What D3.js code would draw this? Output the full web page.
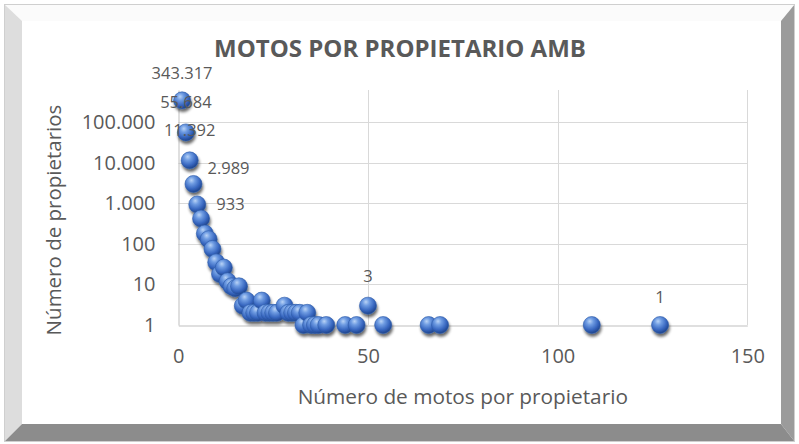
<!DOCTYPE html>
<html>
<head>
<meta charset="utf-8">
<script src="https://cdn.jsdelivr.net/npm/d3@7"></script>
<style>
  html, body { margin: 0; padding: 0; background: #ffffff; }
  svg { display: block; }
  text { font-family: "Open Sans", "DejaVu Sans", sans-serif; fill: #595959; }
</style>
</head>
<body>
<svg id="chart" width="799" height="444"></svg>
<script>
// Número de motos que tiene cada propietario (eje X)
const motos = [
  1, 2, 3, 4, 5, 6, 7, 8, 9, 10,
  11, 12, 13, 14, 15, 16, 17, 18, 19, 20,
  21, 22, 23, 24, 25, 26, 28, 29, 30, 31,
  32, 33, 34, 35, 36, 37, 39, 44, 47, 50,
  54, 66, 69, 109, 127
];
// Número de propietarios con esa cantidad de motos (eje Y, logarítmico)
const propietarios = [
  343317, 55684, 11392, 2989, 933, 420, 180, 130, 75, 35,
  18, 26, 12, 9, 8, 9, 3, 4, 2, 2,
  2, 4, 2, 2, 2, 2, 3, 2, 2, 2,
  2, 1, 2, 1, 1, 1, 1, 1, 1, 3,
  1, 1, 1, 1, 1
];
// Puntos que llevan etiqueta de valor
const etiquetados = [1, 2, 3, 4, 5, 50, 127];

const xTicks = [0, 50, 100, 150];
const yTicks = [1, 10, 100, 1000, 10000, 100000];

const titulo = "MOTOS POR PROPIETARIO AMB";
const tituloX = "Número de motos por propietario";
const tituloY = "Número de propietarios";

const W = 799, H = 444;
const plot = { left: 178.3, right: 747.3, top: 90, bottom: 325 };

const svg = d3.select("#chart");
const defs = svg.append("defs");

// Esfera azul para los marcadores
const grad = defs.append("radialGradient")
  .attr("id", "esfera").attr("cx", "40%").attr("cy", "32%").attr("r", "68%")
  .attr("fx", "38%").attr("fy", "28%");
grad.append("stop").attr("offset", "0%").attr("stop-color", "#b9d3f6");
grad.append("stop").attr("offset", "30%").attr("stop-color", "#6f9ce2");
grad.append("stop").attr("offset", "70%").attr("stop-color", "#3867c0");
grad.append("stop").attr("offset", "100%").attr("stop-color", "#1f448c");

const sombra = defs.append("filter").attr("id", "sombra")
  .attr("x", "-50%").attr("y", "-50%").attr("width", "200%").attr("height", "200%");
sombra.append("feGaussianBlur").attr("in", "SourceAlpha").attr("stdDeviation", 1.6);
sombra.append("feOffset").attr("dx", 1).attr("dy", 3).attr("result", "off");
sombra.append("feComponentTransfer").append("feFuncA").attr("type", "linear").attr("slope", 0.6);
const merge = sombra.append("feMerge");
merge.append("feMergeNode");
merge.append("feMergeNode").attr("in", "SourceGraphic");

// Marco biselado del gráfico
const outer = { x0: 4, y0: 4, x1: 795, y1: 442 };
const inner = { x0: 22, y0: 21, x1: 781, y1: 424 };
const caras = [
  { pts: [[outer.x0, outer.y0], [outer.x1, outer.y0], [inner.x1, inner.y0], [inner.x0, inner.y0]], fill: "#fbfbfb" },
  { pts: [[outer.x0, outer.y0], [inner.x0, inner.y0], [inner.x0, inner.y1], [outer.x0, outer.y1]], fill: "#dddddd" },
  { pts: [[outer.x1, outer.y0], [outer.x1, outer.y1], [inner.x1, inner.y1], [inner.x1, inner.y0]], fill: "#9b9b9b" },
  { pts: [[outer.x0, outer.y1], [inner.x0, inner.y1], [inner.x1, inner.y1], [outer.x1, outer.y1]], fill: "#8c8c8c" }
];
svg.append("rect").attr("x", outer.x0).attr("y", outer.y0)
  .attr("width", outer.x1 - outer.x0).attr("height", outer.y1 - outer.y0)
  .attr("fill", "#ffffff");
svg.selectAll("polygon.cara").data(caras).enter().append("polygon")
  .attr("class", "cara")
  .attr("points", d => d.pts.map(p => p.join(",")).join(" "))
  .attr("fill", d => d.fill);
svg.append("rect").attr("x", inner.x0).attr("y", inner.y0)
  .attr("width", inner.x1 - inner.x0).attr("height", inner.y1 - inner.y0)
  .attr("fill", "#ffffff");
svg.append("rect").attr("x", outer.x0 + 0.5).attr("y", outer.y0 + 0.5)
  .attr("width", outer.x1 - outer.x0 - 1).attr("height", outer.y1 - outer.y0 - 1)
  .attr("fill", "none").attr("stroke", "#cfcfcf").attr("stroke-width", 1);

// Escalas
const x = d3.scaleLinear().domain([0, 150]).range([plot.left, plot.right]);
const yMaxLog = 5.79;
const y = d3.scaleLog().domain([1, Math.pow(10, yMaxLog)]).range([plot.bottom, plot.top]);

// Cuadrícula
const g = svg.append("g");
g.selectAll("line.gh").data(yTicks.slice(1)).enter().append("line")
  .attr("x1", plot.left).attr("x2", plot.right)
  .attr("y1", d => Math.round(y(d)) + 0.5).attr("y2", d => Math.round(y(d)) + 0.5)
  .attr("stroke", "#d9d9d9").attr("stroke-width", 1);
g.selectAll("line.gv").data(xTicks.slice(1)).enter().append("line")
  .attr("y1", plot.top).attr("y2", plot.bottom)
  .attr("x1", d => Math.round(x(d)) + 0.5).attr("x2", d => Math.round(x(d)) + 0.5)
  .attr("stroke", "#d9d9d9").attr("stroke-width", 1);

// Ejes
const fmt = d3.formatLocale({ decimal: ",", thousands: ".", grouping: [3], currency: ["$", ""] }).format(",");

const xAxis = d3.axisBottom(x).tickValues(xTicks).tickSize(0).tickPadding(23).tickFormat(fmt);
const gx = svg.append("g").attr("transform", `translate(0,${Math.round(plot.bottom) + 0.5})`).call(xAxis);
gx.select(".domain").attr("stroke", "#bfbfbf");
gx.selectAll("text").attr("font-size", 20).attr("fill", "#595959")
  .style("font-family", "'Open Sans', sans-serif");

const yAxis = d3.axisLeft(y).tickValues(yTicks).tickSize(0).tickPadding(23).tickFormat(fmt);
const gy = svg.append("g").attr("transform", `translate(${Math.round(plot.left) + 0.5},0)`).call(yAxis);
gy.select(".domain").attr("stroke", "#bfbfbf");
gy.selectAll("text").attr("font-size", 20).attr("fill", "#595959")
  .style("font-family", "'Open Sans', sans-serif");

// Puntos
const datos = motos.map((m, i) => ({ m, n: propietarios[i] }));
svg.append("g").attr("filter", "url(#sombra)")
  .selectAll("circle").data(datos).enter().append("circle")
  .attr("cx", d => x(d.m)).attr("cy", d => y(d.n)).attr("r", 8.5)
  .attr("fill", "url(#esfera)")
  .attr("stroke", "#2c5aa8").attr("stroke-width", 0.6);

// Etiquetas de datos
const desplaz = {
  1: { dx: 0, dy: -28, anchor: "middle" },
  2: { dx: 0, dy: -31, anchor: "middle" },
  3: { dx: 0, dy: -31, anchor: "middle" },
  4: { dx: 14, dy: -16, anchor: "start" },
  5: { dx: 19, dy: -1, anchor: "start" },
  50: { dx: 0, dy: -30, anchor: "middle" },
  127: { dx: 0, dy: -29, anchor: "middle" }
};
svg.append("g").selectAll("text").data(datos.filter(d => etiquetados.includes(d.m)))
  .enter().append("text")
  .attr("x", d => x(d.m) + desplaz[d.m].dx)
  .attr("y", d => y(d.n) + desplaz[d.m].dy)
  .attr("text-anchor", d => desplaz[d.m].anchor)
  .attr("dominant-baseline", "central")
  .attr("font-size", 16.5).attr("fill", "#404040")
  .text(d => fmt(d.n));

// Títulos
svg.append("text").attr("x", 400).attr("y", 47)
  .attr("text-anchor", "middle").attr("dominant-baseline", "central")
  .attr("font-size", 24).attr("font-weight", "bold").attr("fill", "#595959")
  .text(titulo);
svg.append("text").attr("x", (plot.left + plot.right) / 2).attr("y", 396)
  .attr("text-anchor", "middle").attr("dominant-baseline", "central")
  .attr("font-size", 20.8).attr("fill", "#595959")
  .text(tituloX);
svg.append("text")
  .attr("transform", `translate(53,220) rotate(-90)`)
  .attr("text-anchor", "middle").attr("dominant-baseline", "central")
  .attr("font-size", 20.5).attr("fill", "#595959")
  .text(tituloY);
</script>
</body>
</html>
